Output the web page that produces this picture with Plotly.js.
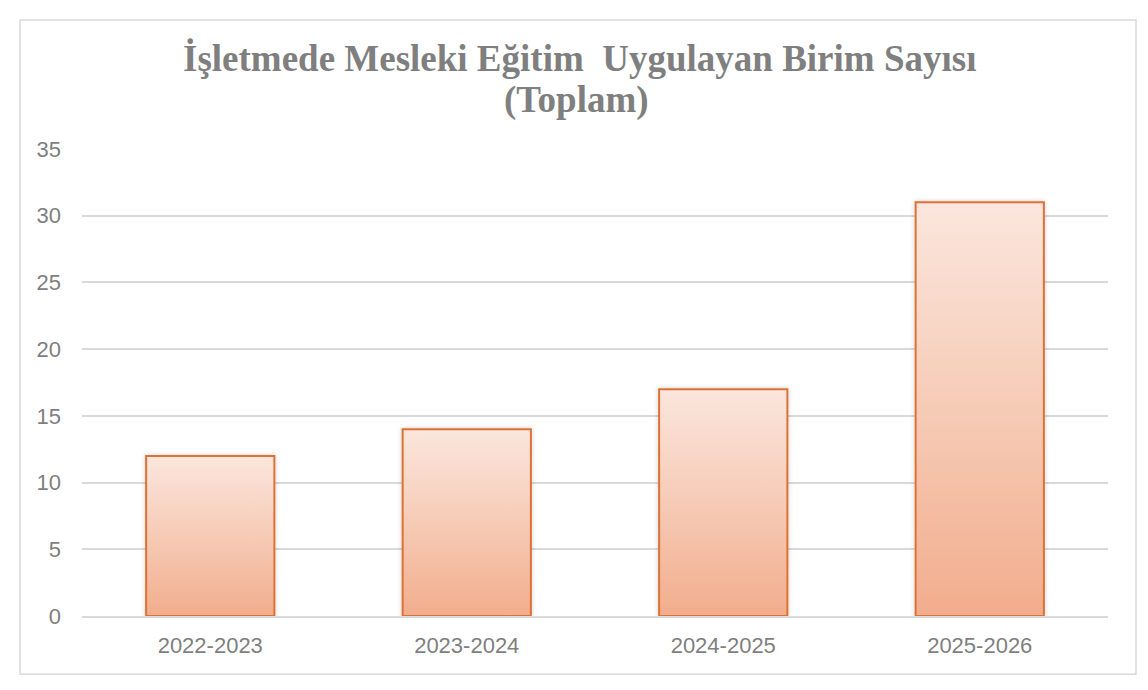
<!DOCTYPE html>
<html>
<head>
<meta charset="utf-8">
<script src="https://cdn.plot.ly/plotly-3.0.1.min.js"></script>
<style>
html,body{margin:0;padding:0;background:#fff;}
#chart{width:1148px;height:690px;}
</style>
</head>
<body>
<div id="chart"></div>
<script>
const categories = ["2022-2023", "2023-2024", "2024-2025", "2025-2026"];
const unitCounts = [12, 14, 17, 31];
const yTickValues = [0, 5, 10, 15, 20, 25, 30, 35];
const titleLine1 = "İşletmede Mesleki Eğitim  Uygulayan Birim Sayısı";
const titleLine2 = "(Toplam)";

const trace = {
  type: "bar",
  x: categories,
  y: unitCounts,
  marker: {
    color: "#f5c4ad",
    line: {color: "#dd7236", width: 2}
  },
  hoverinfo: "x+y"
};

const titleFont = {family: "Liberation Serif, Times New Roman, serif", size: 37, color: "#7f7f7f", weight: "bold"};
const plotTop = 149, plotBottom = 615.7, plotH = plotBottom - plotTop;
function py(p) { return (plotBottom - p) / plotH; }

const layout = {
  width: 1148,
  height: 690,
  paper_bgcolor: "#ffffff",
  plot_bgcolor: "#ffffff",
  margin: {l: 82, r: 40, t: 149, b: 74},
  bargap: 0.5,
  showlegend: false,
  xaxis: {
    type: "category",
    showgrid: false,
    showline: true,
    linecolor: "#d9d9d9",
    linewidth: 2,
    layer: "above traces",
    ticks: "",
    ticklabelstandoff: 9,
    tickfont: {family: "Liberation Sans, Arial, sans-serif", size: 22, color: "#7f7f7f"}
  },
  yaxis: {
    range: [0, 35],
    tickvals: yTickValues,
    showgrid: true,
    gridcolor: "#d9d9d9",
    gridwidth: 2,
    zeroline: false,
    showline: false,
    ticks: "",
    ticklabelstandoff: 20,
    tickfont: {family: "Liberation Sans, Arial, sans-serif", size: 22, color: "#7f7f7f"}
  },
  annotations: [
    {text: "<b>" + titleLine1 + "</b>", xref: "paper", yref: "paper", x: (579 - 82) / 1026, y: py(59),
     xanchor: "center", yanchor: "middle", showarrow: false, font: titleFont},
    {text: "<b>" + titleLine2 + "</b>", xref: "paper", yref: "paper", x: (576 - 82) / 1026, y: py(100),
     xanchor: "center", yanchor: "middle", showarrow: false, font: titleFont}
  ],
  shapes: [{
    type: "rect",
    xref: "paper", yref: "paper",
    x0: (20 - 82) / 1026, x1: (1136 - 82) / 1026,
    y0: py(674), y1: py(20),
    line: {color: "#d9d9d9", width: 1.5},
    fillcolor: "rgba(0,0,0,0)",
    layer: "below"
  }]
};

Plotly.newPlot("chart", [trace], layout, {displayModeBar: false, staticPlot: true}).then(function(gd){
  const svg = gd.querySelector("svg.main-svg");
  const ns = "http://www.w3.org/2000/svg";
  let defs = svg.querySelector("defs");
  if (!defs) { defs = document.createElementNS(ns, "defs"); svg.insertBefore(defs, svg.firstChild); }
  const grad = document.createElementNS(ns, "linearGradient");
  grad.setAttribute("id", "barGrad");
  grad.setAttribute("x1", "0"); grad.setAttribute("y1", "0");
  grad.setAttribute("x2", "0"); grad.setAttribute("y2", "1");
  [["0", "#fbe6dd"], ["0.5", "#f6cbb6"], ["1", "#f2ad8d"]].forEach(function(s){
    const st = document.createElementNS(ns, "stop");
    st.setAttribute("offset", s[0]);
    st.setAttribute("stop-color", s[1]);
    grad.appendChild(st);
  });
  defs.appendChild(grad);
  const filt = document.createElementNS(ns, "filter");
  filt.setAttribute("id", "barShadow");
  filt.setAttribute("x", "-10%"); filt.setAttribute("y", "-10%");
  filt.setAttribute("width", "120%"); filt.setAttribute("height", "120%");
  const ds = document.createElementNS(ns, "feDropShadow");
  ds.setAttribute("dx", "0"); ds.setAttribute("dy", "0");
  ds.setAttribute("stdDeviation", "2.5");
  ds.setAttribute("flood-color", "#000"); ds.setAttribute("flood-opacity", "0.18");
  filt.appendChild(ds);
  defs.appendChild(filt);
  gd.querySelectorAll(".trace.bars .point path").forEach(function(p){
    p.style.fill = "url(#barGrad)";
    p.style.filter = "url(#barShadow)";
  });
});
</script>
</body>
</html>
